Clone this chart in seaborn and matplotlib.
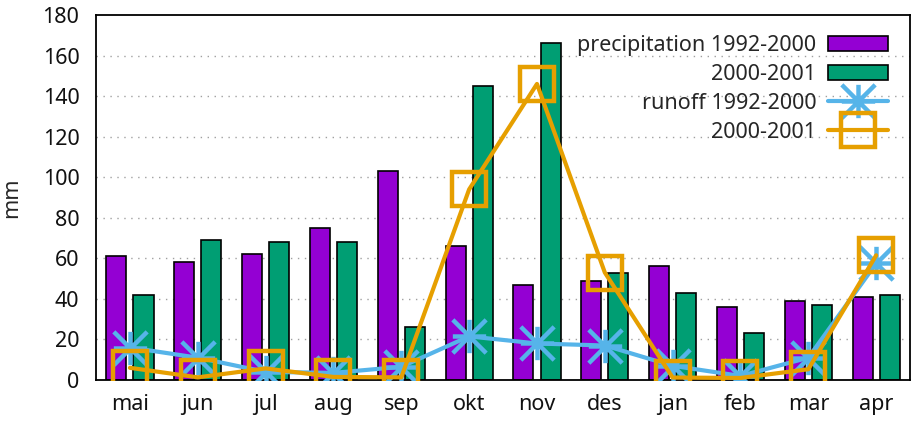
import matplotlib
matplotlib.use("Agg")
import matplotlib.pyplot as plt
from matplotlib.patches import Patch
from matplotlib.lines import Line2D
from matplotlib.path import Path
import numpy as np
import pandas as pd
import seaborn as sns

months = ["mai", "jun", "jul", "aug", "sep", "okt", "nov", "des", "jan", "feb", "mar", "apr"]
precip_1992_2000 = [61, 58, 62, 75, 103, 66, 47, 49, 56, 36, 39, 41]
precip_2000_2001 = [42, 69, 68, 68, 26, 145, 166, 53, 43, 23, 37, 42]
runoff_1992_2000 = [16, 11, 4, 3.5, 6.5, 21.5, 18, 17, 7, 2, 11, 57.5]
runoff_2000_2001 = [6, 1.3, 5.7, 1.5, 1.3, 94, 146, 53, 1.2, 1, 5.3, 61.5]
yticks = list(range(0, 181, 20))

purple = "#9400D3"
green = "#009E73"
blue = "#56B4E9"
orange = "#E69F00"

# asterisk: a plus and a cross sharing the same square box
star = Path(
    [(-1, 0), (1, 0), (0, -1), (0, 1), (-1, -1), (1, 1), (-1, 1), (1, -1)],
    [Path.MOVETO, Path.LINETO] * 4,
)

sns.set_style("white")
plt.rcParams["font.family"] = ["Noto Sans", "DejaVu Sans"]
plt.rcParams["font.size"] = 15.5

fig = plt.figure(figsize=(9.11, 4.23), dpi=100)
ax = fig.add_axes([0.1054, 0.1017, 0.8936, 0.8628])

bars = pd.DataFrame({
    "month": months * 2,
    "value": precip_1992_2000 + precip_2000_2001,
    "period": ["1992-2000"] * 12 + ["2000-2001"] * 12,
})
sns.barplot(data=bars, x="month", y="value", hue="period",
            palette=[purple, green], width=0.8, gap=0.26,
            edgecolor="black", linewidth=1.2, saturation=1,
            legend=False, ax=ax, zorder=2)

idx = np.arange(len(months))
msize = 24
sns.lineplot(x=idx, y=runoff_1992_2000, color=blue, lw=3, marker=star,
             markersize=msize, markeredgewidth=3.2, markeredgecolor=blue,
             ax=ax, zorder=3)
sns.lineplot(x=idx, y=runoff_2000_2001, color=orange, lw=3, marker="s",
             markersize=msize, markeredgewidth=3.2, markeredgecolor=orange,
             markerfacecolor="none", ax=ax, zorder=4)

ax.set_xlim(-0.5, 11.5)
ax.set_ylim(0, 180)
ax.set_yticks(yticks)
ax.set_xticks(idx)
ax.set_xticklabels(months)
ax.set_xlabel("")
ax.set_ylabel("mm")
ax.yaxis.set_label_coords(-0.091, 0.5)
ax.tick_params(axis="both", length=0, labelsize=15.5, colors="#111111")
ax.tick_params(axis="y", pad=12)
ax.tick_params(axis="x", pad=10)
for y in yticks[1:-1]:
    ax.axhline(y, color="#a0a0a0", lw=1, ls=(0, (1, 4)), zorder=1)
for s in ax.spines.values():
    s.set_color("black")
    s.set_linewidth(1.3)

handles = [
    Patch(facecolor=purple, edgecolor="black", linewidth=1.2),
    Patch(facecolor=green, edgecolor="black", linewidth=1.2),
    Line2D([], [], color=blue, lw=3, marker=star, markersize=msize, markeredgewidth=3.2),
    Line2D([], [], color=orange, lw=3, marker="s", markersize=msize, markeredgewidth=3.2,
           markerfacecolor="none"),
]
labels = ["precipitation 1992-2000", "2000-2001", "runoff 1992-2000", "2000-2001"]
leg = ax.legend(handles, labels, loc="upper right", frameon=False, markerfirst=False,
                handlelength=2.8, handleheight=0.7, labelspacing=0.36,
                handletextpad=0.55, borderaxespad=0.5, fontsize=15.5,
                bbox_to_anchor=(0.997, 0.997))
for t in leg.get_texts():
    t.set_ha("right")

fig.savefig("out.png", dpi=100)
